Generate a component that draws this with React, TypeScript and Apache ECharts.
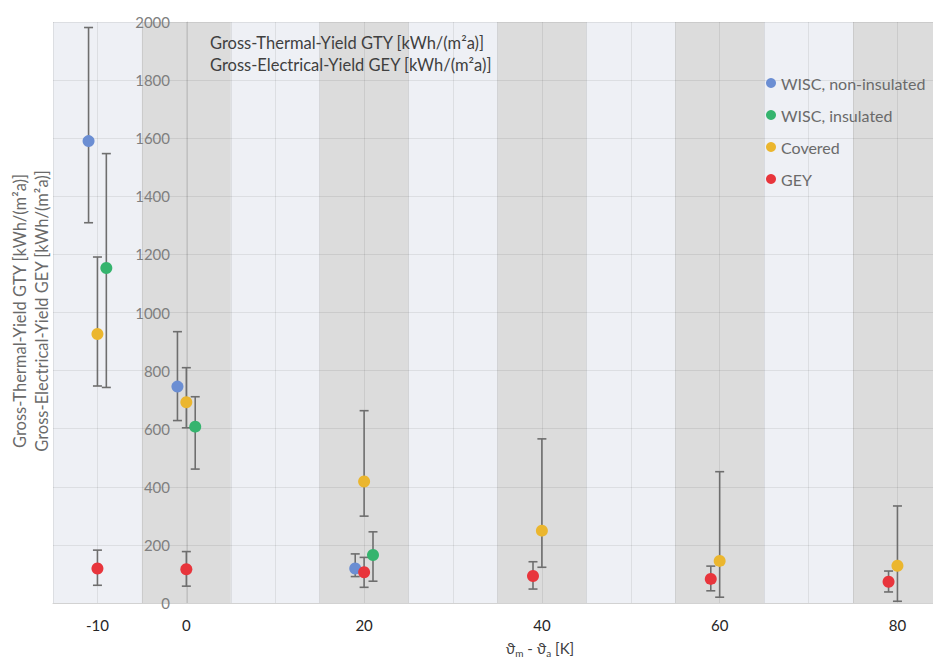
import React, { useEffect, useRef } from 'react';
import * as echarts from 'echarts';

// ---- data ----
const xTickLabels = [-10, 0, 20, 40, 60, 80];
const bandCenters = [0, 20, 40, 60, 80];
const bandHalfWidth = 5;

const seriesNames = ['WISC, non-insulated', 'WISC, insulated', 'Covered', 'GEY'];

const wiscNonX = [-11, -1, 19];
const wiscNonY = [1590, 745, 119];
const wiscNonLow = [1309, 628, 91];
const wiscNonHigh = [1981, 934, 169];

const wiscInsX = [-9, 1, 21];
const wiscInsY = [1153, 607, 165];
const wiscInsLow = [742, 461, 75];
const wiscInsHigh = [1547, 710, 245];

const coveredX = [-10, 0, 20, 40, 60, 80];
const coveredY = [926, 691, 418, 249, 145, 128];
const coveredLow = [747, 603, 299, 123, 20, 6];
const coveredHigh = [1191, 810, 662, 565, 452, 334];

const geyX = [-10, 0, 20, 39, 59, 79];
const geyY = [119, 116, 106, 93, 83, 73];
const geyLow = [61, 58, 54, 48, 42, 38];
const geyHigh = [182, 177, 157, 142, 127, 110];

const textBoxLines = [
  'Gross-Thermal-Yield GTY [kWh/(m²a)]',
  'Gross-Electrical-Yield GEY [kWh/(m²a)]',
];

// ---- styles ----
const colors = ['#6b8ed3', '#35b46e', '#ebb62e', '#e8353c'];
const FONT = 'Lato, "Noto Sans", sans-serif';

const groups = [
  { x: wiscNonX, y: wiscNonY, lo: wiscNonLow, hi: wiscNonHigh },
  { x: wiscInsX, y: wiscInsY, lo: wiscInsLow, hi: wiscInsHigh },
  { x: coveredX, y: coveredY, lo: coveredLow, hi: coveredHigh },
  { x: geyX, y: geyY, lo: geyLow, hi: geyHigh },
];

export default function App() {
  const ref = useRef<HTMLDivElement>(null);
  useEffect(() => {
    if (!ref.current) return;
    const chart = echarts.init(ref.current, null, { renderer: 'svg' });

    const errorData: number[][] = [];
    groups.forEach((g) => {
      g.x.forEach((xv, i) => errorData.push([xv, g.lo[i], g.hi[i]]));
    });

    const bandData = bandCenters.map((c) => [c - bandHalfWidth, c + bandHalfWidth]);

    const scatterSeries = groups.map((g, si) => ({
      name: seriesNames[si],
      type: 'scatter',
      z: 5,
      symbol: 'circle',
      symbolSize: 12,
      itemStyle: { color: colors[si], opacity: 1 },
      data: g.x.map((xv, i) => [xv, g.y[i]]),
    }));

    chart.setOption({
      animation: false,
      backgroundColor: '#ffffff',
      textStyle: { fontFamily: FONT },
      grid: { left: 53, top: 22, right: 0, bottom: 56, containLabel: false },
      legend: {
        orient: 'vertical',
        left: 761,
        top: 69,
        itemGap: 14,
        itemWidth: 10,
        itemHeight: 10,
        icon: 'circle',
        data: seriesNames,
        textStyle: { fontFamily: FONT, fontSize: 16, color: '#6a6a6a', lineHeight: 18 },
      },
      xAxis: {
        type: 'value',
        min: -15,
        max: 84,
        interval: 5,
        axisLine: { show: true, onZero: false, lineStyle: { color: '#d2d2d2', width: 1 } },
        axisTick: { show: false },
        splitLine: { show: true, lineStyle: { color: 'rgba(0,0,0,0.075)', width: 1 } },
        axisLabel: {
          margin: 14,
          fontFamily: FONT,
          fontSize: 15,
          color: '#262626',
          showMaxLabel: false,
          formatter: (v: number) => (xTickLabels.includes(v) ? String(v) : ''),
        },
      },
      yAxis: {
        type: 'value',
        min: 0,
        max: 2000,
        interval: 200,
        offset: -134,
        axisLine: { show: true, onZero: false, lineStyle: { color: 'rgba(0,0,0,0.12)', width: 1 } },
        axisTick: { show: false },
        splitLine: { show: true, lineStyle: { color: 'rgba(0,0,0,0.075)', width: 1 } },
        axisLabel: {
          margin: 17,
          fontFamily: FONT,
          fontSize: 15,
          color: '#7f7f7f',
          formatter: (v: number) => String(v),
        },
      },
      series: [
        {
          type: 'custom',
          name: 'bands',
          z: -1,
          silent: true,
          clip: true,
          data: bandData,
          encode: { x: [0, 1] },
          renderItem: (params: any, api: any) => {
            const cs = params.coordSys;
            const a = api.coord([api.value(0), 0]);
            const b = api.coord([api.value(1), 2000]);
            const children: any[] = [];
            if (params.dataIndex === 0) {
              children.push({
                type: 'rect',
                shape: { x: cs.x, y: cs.y, width: cs.width, height: cs.height },
                style: { fill: '#eef0f5' },
              });
            }
            children.push({
              type: 'rect',
              shape: { x: a[0], y: b[1], width: b[0] - a[0], height: a[1] - b[1] },
              style: { fill: '#dcdcdc' },
            });
            return { type: 'group', children };
          },
        },
        {
          type: 'custom',
          name: 'errors',
          z: 3,
          silent: true,
          data: errorData,
          encode: { x: 0, y: [1, 2] },
          renderItem: (params: any, api: any) => {
            const x = api.value(0);
            const lo = api.coord([x, api.value(1)]);
            const hi = api.coord([x, api.value(2)]);
            const cap = 4.5;
            const st = { stroke: '#6e6e6e', lineWidth: 1.6 };
            return {
              type: 'group',
              children: [
                { type: 'line', shape: { x1: lo[0], y1: lo[1], x2: hi[0], y2: hi[1] }, style: st },
                { type: 'line', shape: { x1: hi[0] - cap, y1: hi[1], x2: hi[0] + cap, y2: hi[1] }, style: st },
                { type: 'line', shape: { x1: lo[0] - cap, y1: lo[1], x2: lo[0] + cap, y2: lo[1] }, style: st },
              ],
            };
          },
        },
        ...scatterSeries,
      ],
      graphic: [
        {
          type: 'text',
          left: 210,
          top: 32,
          z: 10,
          style: {
            text: textBoxLines.join('\n'),
            font: `16.5px ${FONT}`,
            fill: '#404040',
            lineHeight: 22,
          },
        },
        {
          type: 'text',
          x: 31,
          y: 311,
          rotation: Math.PI / 2,
          z: 10,
          style: {
            text: textBoxLines.join('\n'),
            font: `16.5px ${FONT}`,
            fill: '#6a6a6a',
            lineHeight: 22,
            align: 'center',
            verticalAlign: 'middle',
          },
        },
        {
          type: 'text',
          x: 540,
          y: 648,
          z: 10,
          style: {
            text: '{a|ϑ}{s|m}{a| - ϑ}{s|a}{a| [K]}',
            align: 'center',
            verticalAlign: 'middle',
            rich: {
              a: { fontFamily: FONT, fontSize: 15, fill: '#404040', color: '#404040' },
              s: { fontFamily: FONT, fontSize: 10, fill: '#404040', color: '#404040', padding: [9, 0, 0, 0] },
            },
          },
        },
      ],
    });
    return () => chart.dispose();
  }, []);
  return (
    <div
      ref={ref}
      style={{ position: 'fixed', left: 0, top: 0, width: 933, height: 659 }}
    />
  );
}
